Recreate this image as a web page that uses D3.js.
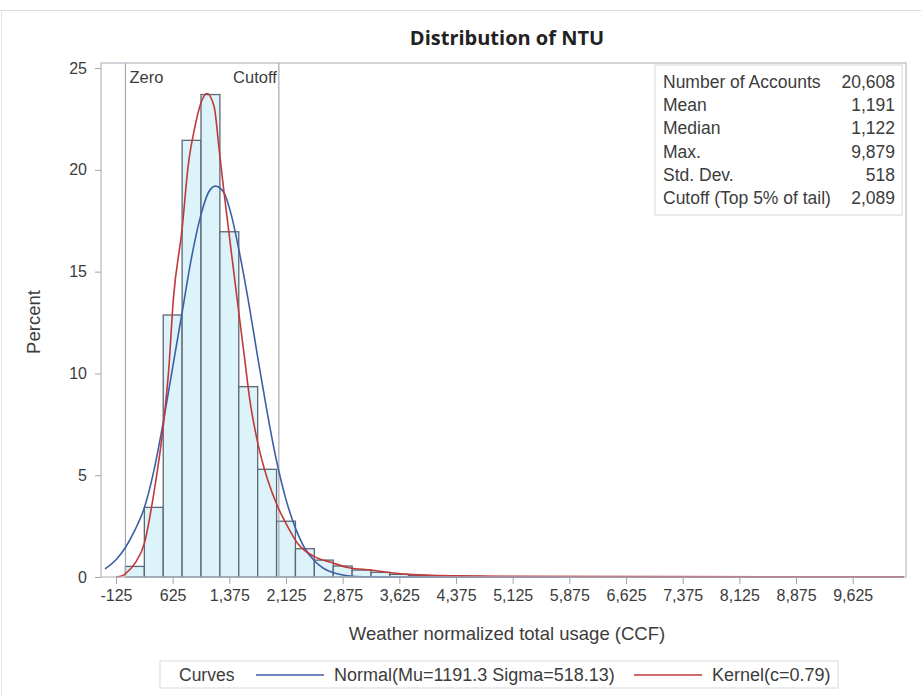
<!DOCTYPE html>
<html>
<head>
<meta charset="utf-8">
<script src="https://cdn.jsdelivr.net/npm/d3@7"></script>
<style>
  body { margin: 0; background: #fff; }
  text { font-family: "Liberation Sans", Arial, sans-serif; fill: #3c3c3c; }
</style>
</head>
<body>
<svg width="921" height="696"></svg>
<script>
// histogram bins (lower edge, width 250) and percent of accounts
var binStarts = [0, 250, 500, 750, 1000, 1250, 1500, 1750, 2000, 2250, 2500, 2750,
  3000, 3250, 3500, 3750, 4000, 4250, 4500, 4750, 5000, 5250, 5500];
var binPercents = [0.52, 3.42, 12.87, 21.45, 23.7, 16.96, 9.35, 5.29, 2.74, 1.39, 0.83, 0.54,
  0.34, 0.23, 0.13, 0.08, 0.05, 0.04, 0.03, 0.02, 0.02, 0.01, 0.01];

// fitted curves [value, percent]
var normalCurve = [[-270, 0.4], [-125, 0.85], [0, 1.45], [125, 2.3], [250, 3.4], [375, 5.2],
  [500, 7.6], [625, 10.3], [750, 13.0], [875, 15.7], [1000, 17.8], [1100, 18.9], [1191, 19.2],
  [1300, 18.9], [1400, 17.8], [1500, 16.1], [1625, 13.6], [1750, 10.8], [1875, 8.1],
  [2000, 5.7], [2125, 3.8], [2250, 2.4], [2375, 1.4], [2500, 0.8], [2625, 0.42], [2750, 0.21],
  [2875, 0.1], [3000, 0.04], [3250, 0.01], [3500, 0], [10300, 0]];
var kernelCurve = [[-125, 0], [-50, 0.05], [0, 0.17], [125, 0.67], [250, 1.65], [375, 4.1],
  [500, 7.4], [575, 10.3], [633, 13.6], [750, 17.1], [830, 20.2], [913, 22.0], [1000, 23.3],
  [1079, 23.75], [1174, 23.1], [1240, 21.0], [1306, 18.85], [1400, 16.0], [1500, 13.0],
  [1575, 10.8], [1650, 8.6], [1750, 6.6], [1883, 4.76], [2016, 3.45], [2148, 2.47],
  [2280, 1.65], [2500, 1.0], [2720, 0.72], [2940, 0.47], [3250, 0.34], [3516, 0.21],
  [3737, 0.13], [4045, 0.08], [4970, 0.04], [7000, 0.02], [10300, 0.01]];

var xTicks = [-125, 625, 1375, 2125, 2875, 3625, 4375, 5125, 5875, 6625, 7375, 8125, 8875, 9625];
var yTicks = [0, 5, 10, 15, 20, 25];

var refValues = [0, 2030];
var refLabels = ["Zero", "Cutoff"];

var statLabels = ["Number of Accounts", "Mean", "Median", "Max.", "Std. Dev.", "Cutoff (Top 5% of tail)"];
var statValues = ["20,608", "1,191", "1,122", "9,879", "518", "2,089"];

var legendLabels = ["Normal(Mu=1191.3 Sigma=518.13)", "Kernel(c=0.79)"];
var legendColors = ["#3d5fa6", "#c0393b"];

var plot = { left: 101, right: 906, top: 63, bottom: 577 };

var svg = d3.select("svg");

var x = d3.scaleLinear().domain([-323.5, 10330]).range([plot.left, plot.right]);
var y = d3.scaleLinear().domain([0, 25.25]).range([plot.bottom, plot.top]);

// outer border of the graph
svg.append("line").attr("x1", 0).attr("x2", 921).attr("y1", 10.5).attr("y2", 10.5)
  .attr("stroke", "#dcdcdc");
svg.append("line").attr("x1", 1.5).attr("x2", 1.5).attr("y1", 10).attr("y2", 696)
  .attr("stroke", "#e6e6e6");

svg.append("text")
  .attr("x", 507).attr("y", 45)
  .attr("text-anchor", "middle")
  .style("font-family", "'Open Sans', sans-serif")
  .style("font-weight", "bold")
  .style("font-size", "20px")
  .style("fill", "#222")
  .text("Distribution of NTU");

// bars
svg.append("g")
  .selectAll("rect")
  .data(binStarts)
  .enter()
  .append("rect")
  .attr("x", (d) => x(d))
  .attr("width", (d) => x(d + 250) - x(d))
  .attr("y", (d, i) => y(binPercents[i]))
  .attr("height", (d, i) => y(0) - y(binPercents[i]))
  .attr("fill", "#dcf3f9")
  .attr("stroke", "#5d6773")
  .attr("stroke-width", 1.3);

// reference lines
var refs = svg.append("g");
refs.selectAll("line")
  .data(refValues)
  .enter()
  .append("line")
  .attr("x1", (d) => x(d)).attr("x2", (d) => x(d))
  .attr("y1", plot.top).attr("y2", plot.bottom)
  .attr("stroke", "#a3a9b0")
  .attr("stroke-width", 1.2);
refs.selectAll("text")
  .data(refValues)
  .enter()
  .append("text")
  .attr("x", (d, i) => (i === 0 ? x(d) + 4 : x(d) - 2))
  .attr("y", 83)
  .attr("text-anchor", (d, i) => (i === 0 ? "start" : "end"))
  .style("font-size", "16.5px")
  .text((d, i) => refLabels[i]);

// curves
var line = d3.line()
  .x((d) => x(d[0]))
  .y((d) => y(d[1]))
  .curve(d3.curveMonotoneX);

svg.append("path")
  .attr("d", line(normalCurve))
  .attr("fill", "none")
  .attr("stroke", legendColors[0])
  .attr("stroke-width", 1.6);

svg.append("path")
  .attr("d", line(kernelCurve))
  .attr("fill", "none")
  .attr("stroke", legendColors[1])
  .attr("stroke-width", 1.6);

// frame
svg.append("rect")
  .attr("x", plot.left).attr("y", plot.top)
  .attr("width", plot.right - plot.left).attr("height", plot.bottom - plot.top)
  .attr("fill", "none")
  .attr("stroke", "#b4bac2")
  .attr("stroke-width", 1.2);

// axes
var fmt = d3.format(",");
var axis_x = d3.axisBottom(x).tickValues(xTicks)
  .tickFormat((d) => fmt(d).replace("\u2212", "-"))
  .tickSize(6).tickPadding(6);
var axis_y = d3.axisLeft(y).tickValues(yTicks).tickSize(6).tickPadding(8);

var gx = svg.append("g")
  .attr("transform", "translate(0," + (plot.bottom + 1) + ")")
  .call(axis_x);
var gy = svg.append("g")
  .attr("transform", "translate(" + plot.left + ",0)")
  .call(axis_y);

[gx, gy].forEach((g) => {
  g.select(".domain").remove();
  g.selectAll(".tick line").attr("stroke", "#a0a6ad");
  g.selectAll(".tick text")
    .style("font-family", "'Liberation Sans', Arial, sans-serif")
    .style("font-size", "16px")
    .style("fill", "#3c3c3c");
});

svg.append("text")
  .attr("x", 507).attr("y", 640)
  .attr("text-anchor", "middle")
  .style("font-size", "18.5px")
  .text("Weather normalized total usage (CCF)");

svg.append("text")
  .attr("transform", "translate(40,322) rotate(-90)")
  .attr("text-anchor", "middle")
  .style("font-size", "18.5px")
  .text("Percent");

// statistics inset
var inset = svg.append("g");
inset.append("rect")
  .attr("x", 655).attr("y", 65)
  .attr("width", 247).attr("height", 150)
  .attr("fill", "#fff")
  .attr("stroke", "#d2d6db");
inset.selectAll("text.lab")
  .data(statLabels)
  .enter()
  .append("text")
  .attr("class", "lab")
  .attr("x", 663)
  .attr("y", (d, i) => 88 + i * 23.2)
  .style("font-size", "17.5px")
  .text((d) => d);
inset.selectAll("text.val")
  .data(statValues)
  .enter()
  .append("text")
  .attr("class", "val")
  .attr("x", 895)
  .attr("y", (d, i) => 88 + i * 23.2)
  .attr("text-anchor", "end")
  .style("font-size", "17.5px")
  .text((d) => d);

// legend
var legend = svg.append("g");
legend.append("rect")
  .attr("x", 160).attr("y", 661)
  .attr("width", 678).attr("height", 27)
  .attr("fill", "#fff")
  .attr("stroke", "#d6d9dd");
legend.append("text")
  .attr("x", 179).attr("y", 681)
  .style("font-size", "17.5px")
  .text("Curves");
var legendX = [256, 634];
legendLabels.forEach((lab, i) => {
  legend.append("line")
    .attr("x1", legendX[i]).attr("x2", legendX[i] + 68)
    .attr("y1", 675).attr("y2", 675)
    .attr("stroke", legendColors[i])
    .attr("stroke-width", 1.4);
  legend.append("text")
    .attr("x", legendX[i] + 78).attr("y", 681)
    .style("font-size", "18px")
    .text(lab);
});
</script>
</body>
</html>
